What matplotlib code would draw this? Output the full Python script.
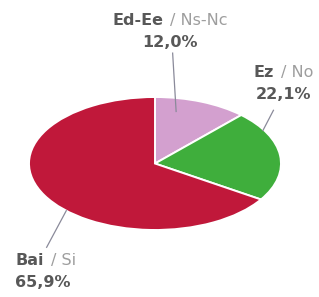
import numpy as np
import matplotlib
matplotlib.use("Agg")
import matplotlib.pyplot as plt
from matplotlib.offsetbox import TextArea, HPacker, VPacker, AnnotationBbox

codes = ["Ed-Ee", "Ez", "Bai"]
names = ["Ns-Nc", "No", "Si"]
values = [12.0, 22.1, 65.9]
pct_labels = ["12,0%", "22,1%", "65,9%"]
colors = ["#d3a0cf", "#3fae3c", "#c0183a"]

W, H = 319, 297
fig = plt.figure(figsize=(W / 100, H / 100), dpi=100)
# ellipse bounding box in pixels: left 29, right 281, top 97, bottom 230
ax = fig.add_axes([29 / W, (H - 230) / H, 252 / W, 133 / H])
wedges, _ = ax.pie(values, colors=colors, startangle=90, counterclock=False,
                   wedgeprops=dict(edgecolor="white", linewidth=1.4))
ax.set_aspect("auto")
ax.set_xlim(-1, 1)
ax.set_ylim(-1, 1)
ax.axis("off")

# label positions (data units of the squashed pie axes) and leader anchors
text_pos = [(0.12, 1.99), (1.02, 1.21), (-1.11, -1.62)]
text_align = ["center", "center", "left"]
line_start = [(0.14, 1.66), (0.94, 0.80), (-0.86, -1.26)]
anchor_frac = [0.28, 0.21, 0.43]
anchor_r = [0.80, 0.99, 1.0]

dark = "#585858"
light = "#9e9e9e"
fs = 11.5

cum = np.concatenate([[0], np.cumsum(values)])
total = cum[-1]
for i, w in enumerate(wedges):
    ang = 90 - 360 * (cum[i] + anchor_frac[i] * values[i]) / total
    th = np.deg2rad(ang)
    ax_pt = (anchor_r[i] * np.cos(th), anchor_r[i] * np.sin(th))
    ax.plot([line_start[i][0], ax_pt[0]], [line_start[i][1], ax_pt[1]],
            color="#8a8a9a", lw=0.9, clip_on=False)
    line1 = HPacker(children=[
        TextArea(codes[i], textprops=dict(color=dark, fontweight="bold", fontsize=fs)),
        TextArea("/ " + names[i], textprops=dict(color=light, fontsize=fs)),
    ], pad=0, sep=5)
    line2 = TextArea(pct_labels[i], textprops=dict(color=dark, fontweight="bold", fontsize=fs))
    box = VPacker(children=[line1, line2], align=text_align[i], pad=0, sep=5)
    xb = 0.5 if text_align[i] == "center" else 0.0
    ab = AnnotationBbox(box, text_pos[i], xycoords="data", frameon=False,
                        box_alignment=(xb, 0.5), annotation_clip=False)
    ax.add_artist(ab)

fig.savefig("out.png", dpi=100, facecolor="white")
